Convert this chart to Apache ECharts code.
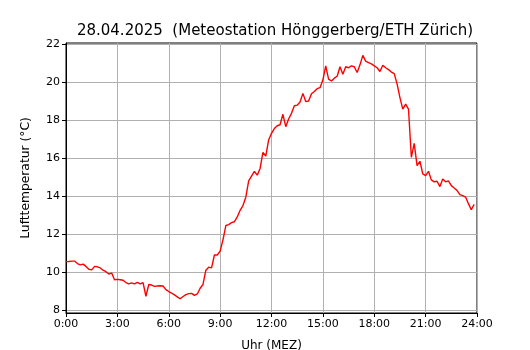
<!DOCTYPE html>
<html>
<head>
<meta charset="utf-8">
<script src="https://cdn.jsdelivr.net/npm/echarts@6/dist/echarts.min.js"></script>
<style>
  html, body { margin: 0; padding: 0; background: #fff; }
  #main { width: 530px; height: 350px; }
</style>
</head>
<body>
<div id="main"></div>
<script>
// Lufttemperatur 28.04.2025, 10-Minuten-Werte ab 0:00
const stepHours = 10 / 60;
const temps = [
  10.55, 10.56, 10.58, 10.58, 10.45, 10.38,
  10.42, 10.30, 10.15, 10.12, 10.30, 10.28,
  10.22, 10.10, 10.02, 9.90, 9.95, 9.60,
  9.62, 9.60, 9.57, 9.45, 9.38, 9.43,
  9.38, 9.46, 9.38, 9.45, 8.73, 9.35,
  9.32, 9.25, 9.27, 9.28, 9.27, 9.08,
  8.98, 8.90, 8.80, 8.70, 8.60, 8.72,
  8.82, 8.87, 8.88, 8.78, 8.85, 9.15,
  9.35, 10.10, 10.26, 10.22, 10.90, 10.90,
  11.10, 11.70, 12.45, 12.50, 12.60, 12.65,
  12.90, 13.25, 13.50, 13.94, 14.80, 15.05,
  15.30, 15.10, 15.45, 16.30, 16.10, 16.95,
  17.30, 17.55, 17.70, 17.75, 18.30, 17.65,
  18.05, 18.35, 18.75, 18.78, 18.95, 19.40,
  18.97, 19.00, 19.38, 19.50, 19.65, 19.70,
  20.10, 20.85, 20.15, 20.05, 20.20, 20.30,
  20.80, 20.41, 20.80, 20.75, 20.85, 20.80,
  20.50, 20.90, 21.40, 21.10, 21.02, 20.95,
  20.85, 20.75, 20.55, 20.88, 20.75, 20.65,
  20.52, 20.44, 19.90, 19.18, 18.57, 18.84,
  18.57, 16.04, 16.77, 15.60, 15.83, 15.17,
  15.08, 15.30, 14.85, 14.75, 14.78, 14.50,
  14.90, 14.75, 14.80, 14.55, 14.42, 14.30,
  14.08, 14.02, 13.95, 13.60, 13.28, 13.56
];
const yTicks = [8, 10, 12, 14, 16, 18, 20, 22];
const xTicks = [0, 3, 6, 9, 12, 15, 18, 21, 24];

const font = 'DejaVu Sans';
let myChart = echarts.init(document.getElementById('main'));

myChart.setOption({
    animation: false,
    title: {
        text: '28.04.2025  (Meteostation Hönggerberg/ETH Zürich)',
        left: 270, top: 19, textAlign: 'center',
        textStyle: { fontFamily: font, fontSize: 15, fontWeight: 'normal', color: '#000' }
    },
    grid: {
        left: 66, right: 53, top: 43, bottom: 37,
        containLabel: false,
        outerBoundsMode: 'none',
        show: true, borderColor: '#000', borderWidth: 1, backgroundColor: 'transparent'
    },
    xAxis: {
        type: 'value',
        min: 0, max: 24,
        name: 'Uhr (MEZ)',
        nameLocation: 'middle',
        nameGap: 27,
        nameTextStyle: { fontFamily: font, fontSize: 12, color: '#000' },
        axisLine: { lineStyle: { color: '#000' } },
        axisTick: { length: 4, lineStyle: { color: '#000' }, customValues: xTicks },
        axisLabel: {
            fontFamily: font, fontSize: 11, color: '#000', margin: 6,
            customValues: xTicks,
            formatter: v => Math.round(v) + ':00'
        },
        splitLine: { show: true, lineStyle: { color: '#b0b0b0', width: 1 } }
    },
    yAxis: {
        type: 'value',
        min: 7.85, max: 22.05,
        name: 'Lufttemperatur (°C)',
        nameLocation: 'middle',
        nameGap: 34,
        nameTextStyle: { fontFamily: font, fontSize: 12.3, color: '#000' },
        axisLine: { show: true, lineStyle: { color: '#000' } },
        axisTick: { show: true, length: 4, lineStyle: { color: '#000' }, customValues: yTicks },
        axisLabel: {
            fontFamily: font, fontSize: 11, color: '#000', margin: 6,
            customValues: yTicks
        },
        splitLine: { show: true, lineStyle: { color: '#b0b0b0', width: 1 } }
    },
    series: [
        {
            type: 'line',
            data: temps.map((v, i) => [i * stepHours, v]),
            showSymbol: false,
            lineStyle: { color: '#ff0000', width: 1.4 },
            z: 3
        }
    ]
});
</script>
</body>
</html>
